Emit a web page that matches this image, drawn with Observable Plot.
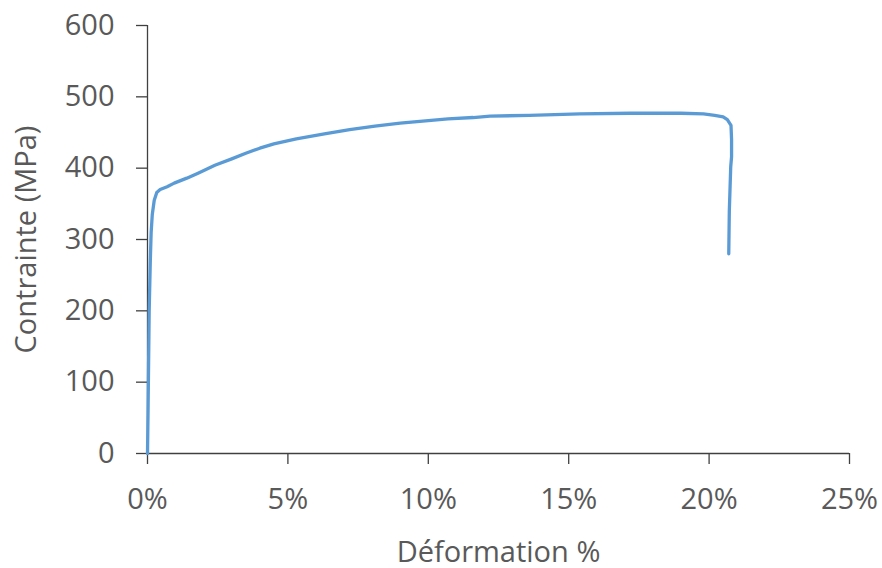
<!DOCTYPE html>
<html>
<head>
<meta charset="utf-8">
<script src="https://cdn.jsdelivr.net/npm/d3@7"></script>
<script src="https://cdn.jsdelivr.net/npm/@observablehq/plot@0.6"></script>
<style>
  html, body { margin: 0; padding: 0; background: #fff; }
  #chart { width: 882px; height: 568px; }
</style>
</head>
<body>
<div id="chart"></div>
<script>
// Strain (%) and stress (MPa)
const strain = [0, 0.02, 0.04, 0.06, 0.10, 0.13, 0.17, 0.24, 0.33, 0.45, 0.70, 0.95, 1.4, 1.8, 2.4, 3.0, 3.5, 4.0, 4.5, 5.3, 6.3, 7.2, 8.1, 9.0, 9.8, 10.7, 11.6, 12.2, 13.6, 15.4, 17.2, 19.0, 19.8, 20.2, 20.5, 20.65, 20.78, 20.80, 20.80, 20.77, 20.72, 20.70];
const stress = [0, 60, 130, 200, 270, 310, 335, 355, 366, 370, 374, 379, 386, 393, 404, 413, 421, 428, 434, 441, 448, 454, 459, 463, 466, 469, 471, 473, 474, 476, 477, 477, 476, 474, 472, 468, 460, 440, 416, 402, 340, 280];
const xTicks = [0, 5, 10, 15, 20, 25];
const yTicks = [0, 100, 200, 300, 400, 500, 600];
const xTitle = "Déformation %";
const yTitle = "Contrainte (MPa)";

const data = strain.map((s, i) => ({strain: s, stress: stress[i]}));

const textColor = "#595959";
const axisColor = "#404040";

const chart = Plot.plot({
  width: 882,
  height: 568,
  marginLeft: 147,
  marginRight: 33,
  marginTop: 25,
  marginBottom: 115,
  style: {fontFamily: "'Open Sans', sans-serif", fontSize: "29px", background: "#fff", overflow: "visible"},
  x: {domain: [0, 25]},
  y: {domain: [0, 600]},
  marks: [
    Plot.axisX({
      ticks: xTicks, tickFormat: d => d + "%", tickSize: 11, tickPadding: 24,
      stroke: axisColor, fill: textColor, strokeWidth: 1.3,
      label: xTitle, labelAnchor: "center", labelArrow: "none", labelOffset: 108
    }),
    Plot.axisY({
      ticks: yTicks, tickSize: 11, tickPadding: 22,
      stroke: axisColor, fill: textColor, strokeWidth: 1.3,
      label: yTitle, labelAnchor: "center", labelArrow: "none", labelOffset: 132
    }),
    Plot.ruleY([0], {stroke: axisColor, strokeWidth: 1.3}),
    Plot.ruleX([0], {stroke: axisColor, strokeWidth: 1.3}),
    Plot.line(data, {x: "strain", y: "stress", stroke: "#5B9BD5", strokeWidth: 3.3, curve: "linear", strokeLinejoin: "round"})
  ]
});
document.getElementById("chart").appendChild(chart);
</script>
</body>
</html>
